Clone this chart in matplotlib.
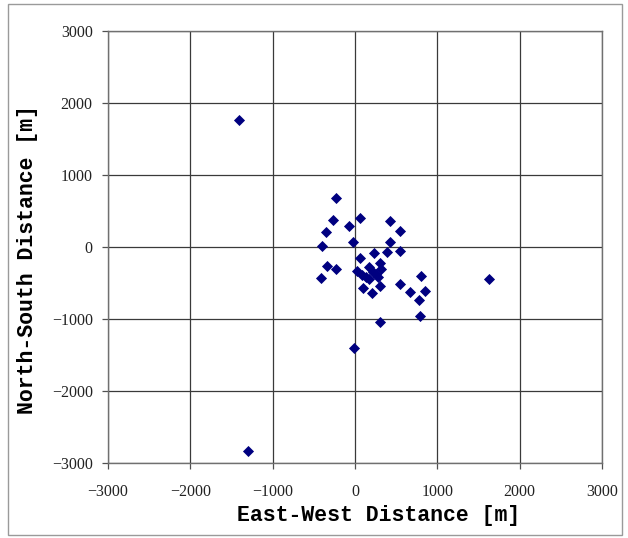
import matplotlib
matplotlib.use("Agg")
import matplotlib.pyplot as plt
from matplotlib.patches import Rectangle

east_west = [-1408, -1301, 1626,
             -233, -267, 63, -73, -354, -403, -29,
             422, 544, 427, 393, 544, 233, 65,
             -338, -234, -418,
             21, 86, 175, 215, 304, 316, 275, 135, 175, 250,
             300, 94, 206, 544, 667, 801, 848, 772, 786, 304, -10]
north_south = [1765, -2827, -446,
               675, 380, 400, 295, 207, 18, 70,
               366, 224, 70, -73, -50, -82, -150,
               -270, -312, -430,
               -330, -390, -273, -343, -225, -310, -414, -414, -451, -370,
               -545, -573, -635, -516, -620, -396, -618, -743, -965, -1035, -1409]

ticks = [-3000, -2000, -1000, 0, 1000, 2000, 3000]

fig = plt.figure(figsize=(6.28, 5.38), dpi=100)
fig.patches.append(Rectangle((8/628, 3/538), 614/628, 531/538, transform=fig.transFigure,
                             fill=False, edgecolor='#9a9a9a', linewidth=1.0))
ax = fig.add_axes([108/628, 1-463/538, 494/628, 432/538])
ax.scatter(east_west, north_south, marker='D', s=32, color='#000080', zorder=3, linewidths=0)
ax.set_xlim(-3000, 3000)
ax.set_ylim(-3000, 3000)
ax.set_xticks(ticks)
ax.set_yticks(ticks)
ax.grid(True, color='#3a3a3a', linewidth=0.9)
ax.set_axisbelow(True)
for s in ax.spines.values():
    s.set_color('#707070')
    s.set_linewidth(1.0)
ax.tick_params(direction='out', length=4, width=0.9, color='#505050',
               labelsize=11.5, labelcolor='#222222')
ax.tick_params(axis='y', pad=7)
ax.tick_params(axis='x', pad=11)
for lab in ax.get_xticklabels() + ax.get_yticklabels():
    lab.set_family('Liberation Serif')
ax.set_xlabel('East-West Distance [m]', family='Liberation Mono', fontweight='bold',
              fontsize=15.5)
ax.set_ylabel('North-South Distance [m]', family='Liberation Mono', fontweight='bold',
              fontsize=15.5)
ax.xaxis.set_label_coords((379-108)/494, (463-516)/432)
ax.xaxis.label.set_va('center')
ax.yaxis.set_label_coords((28-108)/494, (463-260)/432)
ax.yaxis.label.set_va('center')
fig.savefig('out.png', dpi=100)
